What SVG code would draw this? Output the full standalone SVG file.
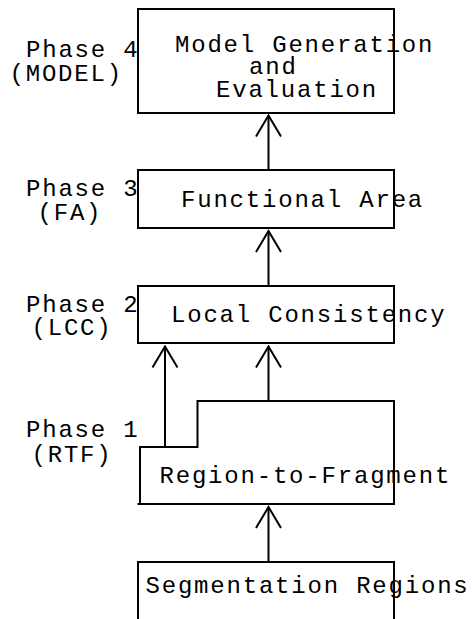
<svg xmlns="http://www.w3.org/2000/svg" width="473" height="619" viewBox="0 0 473 619">
<style>
text{font-family:"Liberation Mono","DejaVu Sans Mono",monospace;font-size:24px;letter-spacing:1.8px;fill:#000}
.b{fill:none;stroke:#000;stroke-width:2}
.c{fill:none;stroke:#000;stroke-width:2}
</style>
<defs>
<marker id="ah" markerWidth="30" markerHeight="30" viewBox="-15 -2 30 30" refX="0" refY="0" markerUnits="userSpaceOnUse" orient="0">
<path d="M-12.5 21 L0 0 L12.5 21" fill="none" stroke="#000" stroke-width="2"/>
</marker>
</defs>
<rect width="473" height="619" fill="#fff"/>
<g id="labels">
<text x="26" y="57">Phase 4</text>
<text x="9.5" y="81">(MODEL)</text>
<text x="26" y="196">Phase 3</text>
<text x="37.5" y="220">(FA)</text>
<text x="26" y="312">Phase 2</text>
<text x="31.5" y="335">(LCC)</text>
<text x="26" y="437">Phase 1</text>
<text x="31.5" y="462">(RTF)</text>
</g>
<g id="model">
<rect class="b" x="138" y="9" width="256" height="104"/>
<text x="175" y="52">Model Generation</text>
<text x="249" y="74">and</text>
<text x="216" y="97">Evaluation</text>
</g>
<g id="fa">
<rect class="b" x="138" y="170" width="256" height="58"/>
<text x="181" y="207">Functional Area</text>
</g>
<g id="lcc">
<rect class="b" x="138" y="286" width="256" height="57"/>
<text x="171" y="322">Local Consistency</text>
</g>
<g id="rtf">
<path class="b" d="M140 505 V447 H197.5 V401 H394 V504 M137.5 504 H395"/>
<text x="159.5" y="483">Region-to-Fragment</text>
</g>
<g id="seg">
<path class="b" d="M138 620 V562 H394 V620"/>
<text x="145.5" y="593">Segmentation Regions</text>
</g>
<g id="connectors">
<path class="c" d="M268.5 170 V115.5" marker-end="url(#ah)"/>
<path class="c" d="M268.5 286 V231" marker-end="url(#ah)"/>
<path class="c" d="M165 447 V346.5" marker-end="url(#ah)"/>
<path class="c" d="M268.5 401 V346.5" marker-end="url(#ah)"/>
<path class="c" d="M268.5 562 V507" marker-end="url(#ah)"/>
</g>
</svg>
